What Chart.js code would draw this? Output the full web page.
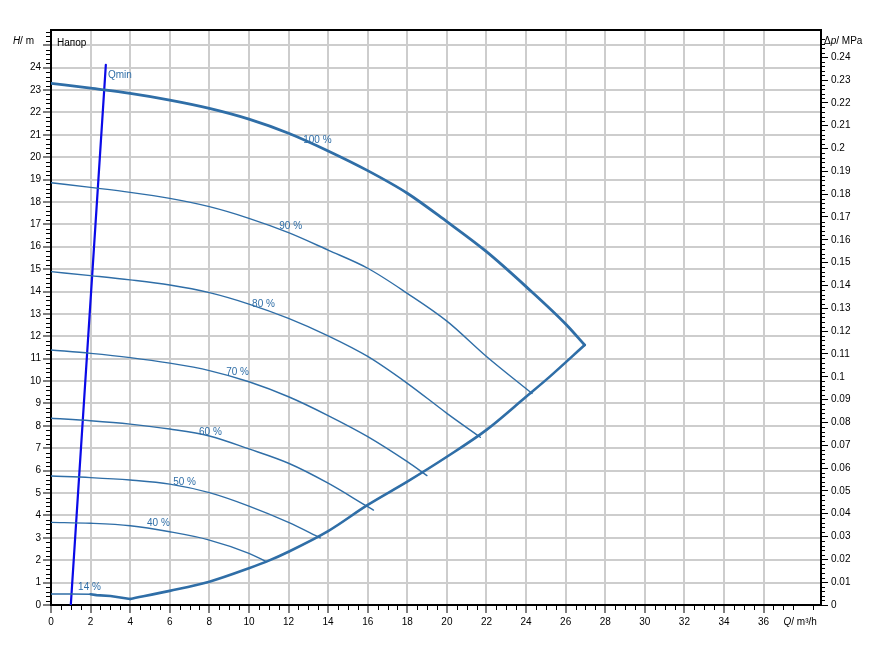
<!DOCTYPE html>
<html>
<head>
<meta charset="utf-8">
<script src="https://cdn.jsdelivr.net/npm/chart.js@4.4.1/dist/chart.umd.min.js"></script>
<style>
  html, body { margin: 0; padding: 0; background: #ffffff; }
  #c { display: block; }
</style>
</head>
<body>
<canvas id="c" width="889" height="660"></canvas>
<script>
// ---------- data ----------
const q100 = [0, 2, 4, 6, 8, 10, 12, 14, 16, 18, 20, 22, 24, 26, 26.96];
const h100 = [23.3, 23.08, 22.85, 22.55, 22.18, 21.7, 21.07, 20.28, 19.4, 18.39, 17.12, 15.78, 14.22, 12.55, 11.61];

const q90 = [0, 2, 4, 6, 8, 10, 12, 14, 16, 18, 20, 22, 24.3];
const h90 = [18.86, 18.65, 18.43, 18.16, 17.79, 17.27, 16.63, 15.85, 15.04, 13.92, 12.68, 11.1, 9.45];

const q80 = [0, 2, 4, 6, 8, 10, 12, 14, 16, 18, 20, 21.69];
const h80 = [14.89, 14.71, 14.52, 14.29, 13.95, 13.44, 12.8, 12.02, 11.1, 9.9, 8.56, 7.49];

const q70 = [0, 2, 4, 6, 8, 10, 12, 14, 16, 18, 18.99];
const h70 = [11.39, 11.24, 11.05, 10.8, 10.47, 9.97, 9.3, 8.46, 7.52, 6.4, 5.78];

const q60 = [0, 2, 4, 6, 8, 10, 12, 14, 16, 16.29];
const h60 = [8.34, 8.23, 8.08, 7.86, 7.55, 6.97, 6.33, 5.44, 4.39, 4.24];

const q50 = [0, 2, 4, 6, 8, 10, 12, 13.6];
const h50 = [5.76, 5.69, 5.58, 5.4, 5.02, 4.42, 3.69, 3.0];

const q40 = [0, 2, 4, 6, 8, 10, 10.9];
const h40 = [3.69, 3.65, 3.54, 3.27, 2.9, 2.31, 1.93];

const q14 = [0, 1, 2];
const h14 = [0.49, 0.49, 0.48];

const qLow = [2, 2.3, 3, 4];
const hLow = [0.48, 0.44, 0.40, 0.27];

const qEnv = [4, 6, 8, 10, 11, 12, 14, 16, 18, 20, 22, 24, 25.2, 26.96];
const hEnv = [0.27, 0.63, 1.04, 1.64, 1.98, 2.38, 3.3, 4.47, 5.51, 6.62, 7.82, 9.3, 10.2, 11.61];

const qMin = [1.0, 2.77];
const hMin = [0, 24.12];

const labelText = ['100 %', '90 %', '80 %', '70 %', '60 %', '50 %', '40 %', '14 %', 'Qmin'];
const labelQ    = [12.74, 11.53, 10.16, 8.85, 7.48, 6.17, 4.85, 1.37, 2.88];
const labelH    = [20.74, 16.9, 13.44, 10.38, 7.71, 5.46, 3.65, 0.79, 23.64];

const xMax = 38.9;
const yMax = 25.68;
const mPaPerM = 0.00981;
// ---------------------------------------------------

const FONT = '"Liberation Sans", Arial, Helvetica, sans-serif';
const CURVE = '#2f6ea7';
const QMIN = '#0a0ae8';

function pts(qs, hs) { return qs.map((q, i) => ({ x: q, y: hs[i] })); }

function ds(qs, hs, width, color, smooth) {
  return {
    data: pts(qs, hs),
    borderColor: color,
    backgroundColor: color,
    borderWidth: width,
    pointRadius: 0,
    pointHoverRadius: 0,
    fill: false,
    cubicInterpolationMode: smooth ? 'monotone' : 'default',
    tension: smooth ? 0.4 : 0,
    borderCapStyle: 'round',
    borderJoinStyle: 'round'
  };
}

const tickFont = { family: FONT, size: 10 };

const extras = {
  id: 'extras',
  afterDatasetsDraw(chart) {
    const ctx = chart.ctx;
    const xs = chart.scales.x, ys = chart.scales.y;
    ctx.save();
    ctx.font = '10px ' + FONT;
    ctx.textBaseline = 'middle';
    ctx.textAlign = 'left';
    labelText.forEach((t, i) => {
      ctx.fillStyle = CURVE;
      ctx.fillText(t, xs.getPixelForValue(labelQ[i]), ys.getPixelForValue(labelH[i]));
    });
    ctx.restore();
  },
  afterDraw(chart) {
    const ctx = chart.ctx;
    const a = chart.chartArea;
    const xs = chart.scales.x, ys = chart.scales.y, y2 = chart.scales.y2;
    ctx.save();
    ctx.strokeStyle = '#000';
    ctx.lineWidth = 2;
    ctx.beginPath();
    ctx.moveTo(a.left - 1, a.top);
    ctx.lineTo(a.right + 1, a.top);
    ctx.stroke();
    ctx.lineWidth = 1;
    ctx.beginPath();
    for (let k = 0; k * 0.2 <= yMax; k++) {
      if (k % 5 === 0) continue;
      const p = Math.round(ys.getPixelForValue(k * 0.2)) + 0.5;
      ctx.moveTo(a.left - 5, p); ctx.lineTo(a.left, p);
    }
    for (let k = 0; k * 0.002 <= yMax * mPaPerM; k++) {
      if (k % 5 === 0) continue;
      const p = Math.round(y2.getPixelForValue(k * 0.002)) + 0.5;
      ctx.moveTo(a.right, p); ctx.lineTo(a.right + 4, p);
    }
    for (let k = 0; k * 0.5 <= xMax; k++) {
      if (k % 4 === 0) continue;
      const p = Math.round(xs.getPixelForValue(k * 0.5)) + 0.5;
      ctx.moveTo(p, a.bottom); ctx.lineTo(p, a.bottom + 5);
    }
    ctx.stroke();

    function parts(list, x, y, align) {
      let w = 0;
      list.forEach(p => { ctx.font = (p[1] ? 'italic ' : '') + '10px ' + FONT; w += ctx.measureText(p[0]).width; });
      let cx = align === 'right' ? x - w : (align === 'center' ? x - w / 2 : x);
      ctx.textAlign = 'left';
      ctx.textBaseline = 'middle';
      ctx.fillStyle = '#000';
      list.forEach(p => {
        ctx.font = (p[1] ? 'italic ' : '') + '10px ' + FONT;
        ctx.fillText(p[0], cx, y);
        cx += ctx.measureText(p[0]).width;
      });
    }
    parts([['H', true], ['/ m', false]], a.left - 17, a.top + 11, 'right');
    parts([['\u0394', false], ['p', true], ['/ MPa', false]], a.right + 3, a.top + 11, 'left');
    parts([['Q', true], ['/ m\u00b3/h', false]], xs.getPixelForValue(38) - 3, a.bottom + 17, 'center');
    ctx.font = '10px ' + FONT;
    ctx.fillStyle = '#000';
    ctx.textAlign = 'left';
    ctx.textBaseline = 'middle';
    ctx.fillText('\u041d\u0430\u043f\u043e\u0440', a.left + 6, a.top + 13);
    ctx.restore();
  }
};

const gridCommon = { color: '#cdcdcd', lineWidth: 2, tickColor: '#000', tickWidth: 1 };

new Chart(document.getElementById('c'), {
  type: 'line',
  data: {
    datasets: [
      ds(q40, h40, 1.4, CURVE, true),
      ds(q50, h50, 1.4, CURVE, true),
      ds(q60, h60, 1.4, CURVE, true),
      ds(q70, h70, 1.4, CURVE, true),
      ds(q80, h80, 1.4, CURVE, true),
      ds(q90, h90, 1.4, CURVE, true),
      ds(q14, h14, 1.4, CURVE, false),
      ds(q100, h100, 2.8, CURVE, true),
      ds(qLow, hLow, 2.6, CURVE, false),
      ds(qEnv, hEnv, 2.6, CURVE, true),
      ds(qMin, hMin, 2.2, QMIN, false),
      { data: [], yAxisID: 'y2', pointRadius: 0 }
    ]
  },
  options: {
    responsive: false,
    animation: false,
    events: [],
    layout: { padding: { top: 30, left: 0, right: 0, bottom: 0 } },
    plugins: { legend: { display: false }, tooltip: { enabled: false } },
    scales: {
      x: {
        type: 'linear', position: 'bottom', min: 0, max: xMax,
        ticks: { stepSize: 2, font: tickFont, color: '#000', padding: 3, maxRotation: 0, autoSkip: false,
                 callback: v => (v > 37 ? '' : String(v)) },
        grid: Object.assign({ tickLength: 8 }, gridCommon),
        border: { display: true, color: '#000', width: 2 },
        afterBuildTicks: s => { s.ticks = s.ticks.filter(t => Math.abs(t.value / 2 - Math.round(t.value / 2)) < 1e-6); },
        afterFit: s => { s.height = 55; }
      },
      y: {
        type: 'linear', position: 'left', min: 0, max: yMax,
        ticks: { stepSize: 1, font: tickFont, color: '#000', padding: 2, autoSkip: false,
                 callback: v => (v > 24.5 ? '' : String(v)) },
        grid: Object.assign({ tickLength: 8 }, gridCommon),
        border: { display: true, color: '#000', width: 2 },
        afterBuildTicks: s => { s.ticks = s.ticks.filter(t => Math.abs(t.value - Math.round(t.value)) < 1e-6); },
        afterFit: s => { s.width = 51; }
      },
      y2: {
        type: 'linear', position: 'right', min: 0, max: yMax * mPaPerM,
        ticks: { stepSize: 0.01, font: tickFont, color: '#000', padding: 3, autoSkip: false,
                 callback: v => (v > 0.245 ? '' : String(Number(v.toFixed(2)))) },
        grid: { drawOnChartArea: false, tickLength: 7, tickColor: '#000', tickWidth: 1 },
        border: { display: true, color: '#000', width: 2 },
        afterBuildTicks: s => { s.ticks = s.ticks.filter(t => Math.abs(t.value * 100 - Math.round(t.value * 100)) < 1e-6); },
        afterFit: s => { s.width = 68; }
      }
    }
  },
  plugins: [extras]
});
</script>
</body>
</html>
